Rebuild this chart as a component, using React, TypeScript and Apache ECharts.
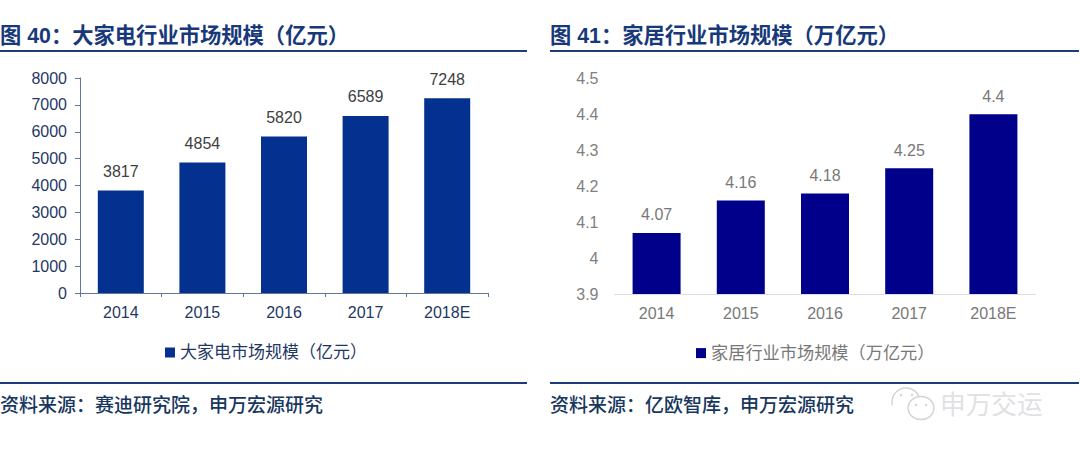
import React, { useEffect, useRef } from "react";
import * as echarts from "echarts";

const categories = ["2014", "2015", "2016", "2017", "2018E"];
const applianceValues = [3817, 4854, 5820, 6589, 7248];
const homeValues = [4.07, 4.16, 4.18, 4.25, 4.4];
const applianceName = "大家电市场规模（亿元）";
const homeName = "家居行业市场规模（万亿元）";
const leftTitle = "图 40：大家电行业市场规模（亿元）";
const rightTitle = "图 41：家居行业市场规模（万亿元）";
const leftSource = "资料来源：赛迪研究院，申万宏源研究";
const rightSource = "资料来源：亿欧智库，申万宏源研究";
const watermark = "申万交运";

const FONT = '"Liberation Sans", "Noto Sans CJK SC", sans-serif';
const NAVY = "#1c3d78";
const MARK = "#d0d2d6";

const rule = (x1: number, x2: number, y: number) => ({
  type: "line",
  shape: { x1, y1: y, x2, y2: y },
  style: { stroke: NAVY, lineWidth: 2 },
});
const heading = (x: number, y: number, text: string, size: number, weight: string, fill: string) => ({
  type: "text",
  x,
  y,
  style: { text, fill, font: `${weight} ${size}px ${FONT}`, textVerticalAlign: "middle", textAlign: "left" },
});
const eye = (cx: number, cy: number) => ({
  type: "circle",
  shape: { cx, cy, r: 1.2 },
  style: { fill: MARK },
});

export default function App() {
  const ref = useRef<HTMLDivElement>(null);
  useEffect(() => {
    const chart = echarts.init(ref.current!, undefined, { renderer: "svg" });
    chart.setOption({
      animation: false,
      backgroundColor: "#ffffff",
      textStyle: { fontFamily: FONT },
      grid: [
        { left: 80, top: 78, width: 408, height: 215 },
        { left: 614.5, top: 78.4, width: 421, height: 215.6 },
      ],
      xAxis: [
        {
          gridIndex: 0,
          type: "category",
          data: categories,
          axisLine: { lineStyle: { color: "#5f7898", width: 1 } },
          axisTick: { show: true, length: 4, alignWithLabel: false, lineStyle: { color: "#5f7898" } },
          axisLabel: { color: "#1f3864", fontSize: 16, margin: 11, fontFamily: FONT },
        },
        {
          gridIndex: 1,
          type: "category",
          data: categories,
          axisLine: { lineStyle: { color: "#dcdce0", width: 1 } },
          axisTick: { show: false },
          axisLabel: { color: "#787878", fontSize: 16, margin: 11, fontFamily: FONT },
        },
      ],
      yAxis: [
        {
          gridIndex: 0,
          type: "value",
          min: 0,
          max: 8000,
          interval: 1000,
          splitLine: { show: false },
          axisLine: { show: true, lineStyle: { color: "#5f7898", width: 1 } },
          axisTick: { show: true, length: 5, lineStyle: { color: "#5f7898" } },
          axisLabel: {
            color: "#1f3864",
            fontSize: 16,
            margin: 13,
            fontFamily: FONT,
            formatter: (v: number) => String(v),
          },
        },
        {
          gridIndex: 1,
          type: "value",
          min: 3.9,
          max: 4.5,
          interval: 0.1,
          splitLine: { show: false },
          axisLine: { show: false },
          axisTick: { show: false },
          axisLabel: { color: "#808080", fontSize: 16, margin: 16, fontFamily: FONT },
        },
      ],
      legend: [
        {
          data: [applianceName],
          left: 160,
          top: 339,
          itemWidth: 10,
          itemHeight: 10,
          itemGap: 4,
          icon: "rect",
          textStyle: { color: "#1f3864", fontSize: 17, fontFamily: FONT },
        },
        {
          data: [homeName],
          left: 691,
          top: 339.5,
          itemWidth: 10,
          itemHeight: 10,
          itemGap: 4,
          icon: "rect",
          textStyle: { color: "#787878", fontSize: 17.2, fontFamily: FONT },
        },
      ],
      series: [
        {
          name: applianceName,
          type: "bar",
          xAxisIndex: 0,
          yAxisIndex: 0,
          data: applianceValues,
          barWidth: 46,
          itemStyle: { color: "#04318f" },
          label: { show: true, position: "top", distance: 11, color: "#404040", fontSize: 16, fontFamily: FONT },
        },
        {
          name: homeName,
          type: "bar",
          xAxisIndex: 1,
          yAxisIndex: 1,
          data: homeValues,
          barWidth: 48,
          itemStyle: { color: "#00008b" },
          label: { show: true, position: "top", distance: 10, color: "#787878", fontSize: 16, fontFamily: FONT },
        },
      ],
      graphic: [
        heading(0, 36, leftTitle, 21.3, "bold", "#17397a"),
        heading(550, 36, rightTitle, 21.3, "bold", "#17397a"),
        rule(0, 527, 51),
        rule(550, 1079, 51),
        rule(0, 527, 383),
        rule(550, 1079, 383),
        heading(0, 405, leftSource, 19, "500", "#17375e"),
        heading(550, 405, rightSource, 19, "500", "#17375e"),
        heading(940, 405, watermark, 25.7, "normal", "#dfe1e4"),
        { type: "arc", shape: { cx: 906, cy: 402, r: 14, startAngle: 2.9, endAngle: 6.9 }, style: { fill: "none", stroke: MARK, lineWidth: 1.4 } },
        { type: "ellipse", shape: { cx: 921, cy: 408, rx: 13, ry: 11.5 }, style: { fill: "#ffffff", stroke: MARK, lineWidth: 1.4 } },
        eye(901, 395),
        eye(912, 395),
        eye(916, 405),
        eye(926, 405),
      ],
    });
    return () => chart.dispose();
  }, []);
  return <div ref={ref} style={{ position: "fixed", left: 0, top: 0, width: 1080, height: 452 }} />;
}
